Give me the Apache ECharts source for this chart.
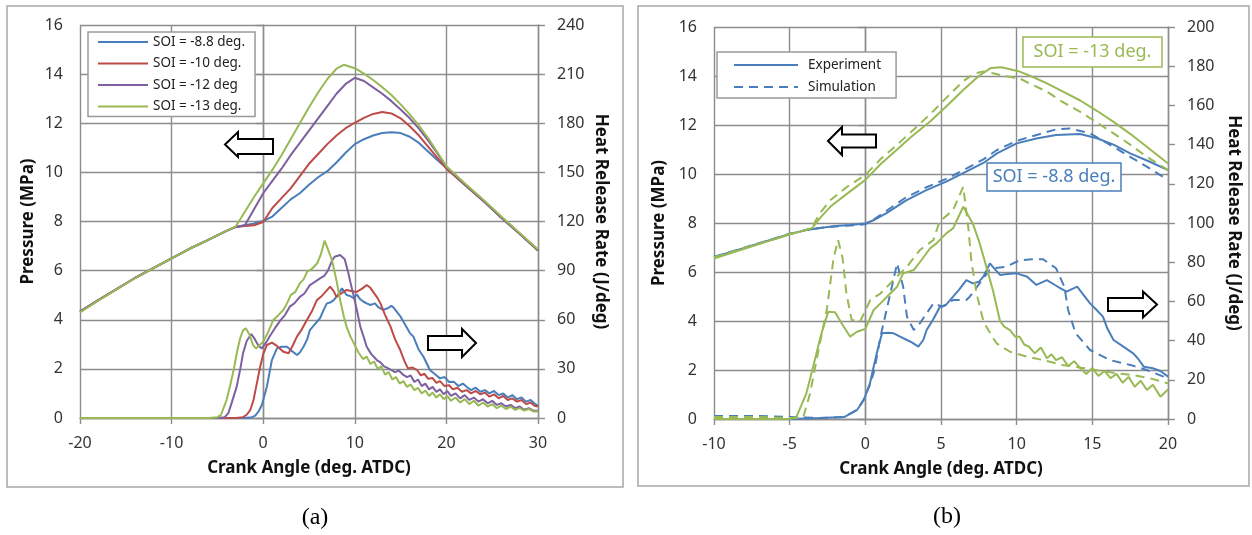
<!DOCTYPE html>
<html><head><meta charset="utf-8">
<script src="https://cdn.jsdelivr.net/npm/echarts@6/dist/echarts.min.js"></script>
<style>html,body{margin:0;padding:0;background:#fff}#c{width:1252px;height:535px}</style>
</head><body><div id="c"></div><script>
// ---------- Panel (a): pressure (MPa) vs crank angle ----------
const pressA_88 = [[-20,4.33],[-18,4.8],[-16,5.25],[-14,5.7],[-12,6.1],[-10,6.5],[-8,6.9],[-6,7.25],[-4,7.62],[-3,7.78],[-2,7.85],[-1,7.92],[0,8.02],[1,8.2],[2,8.55],[3,8.9],[4,9.15],[5,9.5],[6,9.8],[7,10.05],[8,10.4],[9,10.8],[10,11.15],[11,11.35],[12,11.5],[13,11.6],[14,11.63],[15,11.6],[16,11.45],[17,11.2],[18,10.85],[19,10.5],[20,10.18],[22,9.5],[24,8.85],[26,8.15],[28,7.5],[30,6.82]];
const pressA_10 = [[-20,4.33],[-18,4.8],[-16,5.25],[-14,5.7],[-12,6.1],[-10,6.5],[-8,6.9],[-6,7.25],[-4,7.62],[-3,7.78],[-2,7.82],[-1,7.85],[0,7.98],[1,8.55],[2,8.95],[3,9.35],[4,9.85],[5,10.35],[6,10.75],[7,11.15],[8,11.5],[9,11.8],[10,12.02],[11,12.22],[12,12.38],[13,12.46],[14,12.4],[15,12.2],[16,11.88],[17,11.5],[18,11.05],[19,10.6],[20,10.15],[22,9.5],[24,8.85],[26,8.15],[28,7.5],[30,6.82]];
const pressA_12 = [[-20,4.33],[-18,4.8],[-16,5.25],[-14,5.7],[-12,6.1],[-10,6.5],[-8,6.9],[-6,7.25],[-4,7.62],[-3,7.78],[-2,7.85],[-1,8.5],[0,9.15],[1,9.65],[2,10.15],[3,10.7],[4,11.2],[5,11.7],[6,12.2],[7,12.7],[8,13.2],[9,13.6],[10,13.85],[11,13.72],[12,13.46],[13,13.2],[14,12.9],[15,12.56],[16,12.2],[17,11.78],[18,11.3],[19,10.78],[20,10.22],[22,9.52],[24,8.86],[26,8.16],[28,7.5],[30,6.83]];
const pressA_13 = [[-20,4.3],[-18,4.78],[-16,5.24],[-14,5.69],[-12,6.1],[-10,6.5],[-8,6.9],[-6,7.25],[-4,7.62],[-3,7.8],[-2,8.4],[-1,9.0],[0,9.55],[1,10.1],[2,10.7],[3,11.35],[4,12.0],[5,12.65],[6,13.25],[7,13.8],[8,14.22],[8.8,14.38],[10,14.24],[11,14.02],[12,13.76],[13,13.47],[14,13.15],[15,12.77],[16,12.36],[17,11.9],[18,11.4],[19,10.83],[20,10.25],[22,9.56],[24,8.9],[26,8.2],[28,7.53],[30,6.86]];

// ---------- Panel (a): heat release rate (J/deg) ----------
const hrrA_88 = [[-20,0],[-2,0],[-1.2,0.5],[-0.87,1.5],[-0.5,4],[-0.15,7.9],[0.4,19.1],[0.95,35.4],[1.5,42.5],[2.0,43.5],[2.6,43.5],[3.1,41],[3.7,38.5],[4.0,40],[4.4,43.5],[4.8,48],[5.1,53.7],[5.6,57],[6.2,60.9],[6.6,66],[6.95,70],[7.3,70.5],[7.7,72],[8.2,75.5],[8.6,79.2],[9.1,75.1],[9.5,74.5],[9.86,73.1],[10.2,75.5],[10.6,72.5],[10.95,71],[11.3,70],[11.7,69],[12.2,70],[12.6,67.5],[13.1,66],[13.6,67],[14.0,68.5],[14.3,67],[14.7,64],[15.0,61.9],[15.5,57],[16.0,52],[16.4,49.7],[16.95,42],[17.5,37.4],[18.2,29.3],[18.7,27],[19.3,24.2],[19.8,25],[20.3,22],[20.8,22.2],[21.3,19.5],[21.8,21],[22.2,19.1],[22.7,17],[23.2,18.5],[23.7,16],[24.2,17],[24.7,15],[25.2,16.5],[25.7,14],[26.2,15],[26.7,12.5],[27.2,14],[27.7,11.5],[28.2,12.5],[28.7,10],[29.2,11],[29.6,9],[30,7.5]];
const hrrA_10 = [[-20,0],[-3,0],[-2.2,0.5],[-1.8,2],[-1.4,5],[-1.06,11],[-0.7,21],[-0.33,31.3],[0,39],[0.4,44.6],[0.95,46],[1.5,44],[2.2,40.5],[2.77,39.5],[3.2,44],[3.68,49.7],[4.2,54],[4.77,59.8],[5.3,65],[5.86,72],[6.3,74],[6.8,77],[7.3,80.2],[7.7,77.5],[8.0,74],[8.5,76],[9.1,78.2],[9.6,77.5],[10.2,77],[10.8,79],[11.3,81.2],[11.7,79.5],[12.0,77],[12.4,74],[12.8,70],[13.3,63],[13.9,55.8],[14.4,48],[14.96,41.5],[15.4,35],[15.8,30.3],[16.3,30.8],[16.8,29.3],[17.2,26],[17.6,27],[18.0,24],[18.5,24.4],[18.9,21.5],[19.3,22.5],[19.8,19.5],[20.3,20],[20.7,17.5],[21.2,18.5],[21.7,16],[22.2,17],[22.7,15],[23.2,16.5],[23.7,14.5],[24.2,15.5],[24.7,13],[25.2,14.5],[25.7,12],[26.2,13.5],[26.7,11],[27.2,12],[27.7,10],[28.2,11],[28.7,8.5],[29.2,9.5],[29.6,7.5],[30,7]];
const hrrA_12 = [[-20,0],[-5,0],[-4.2,0.5],[-3.8,3],[-3.4,10],[-2.9,19],[-2.5,30],[-2.2,39.5],[-1.8,47],[-1.3,51.3],[-0.9,48],[-0.5,44],[-0.15,42.5],[0.3,46],[0.8,50.7],[1.3,55],[1.9,59.8],[2.4,63],[2.9,68],[3.4,70],[4.0,74],[4.5,76],[5.1,81.2],[5.6,83],[6.2,85.3],[6.7,87],[7.1,90.4],[7.5,96],[7.8,98.5],[8.4,99.5],[8.9,97],[9.3,88.4],[9.6,81],[9.9,74],[10.3,64],[10.6,55.8],[11.0,49],[11.3,43.5],[11.8,39],[12.4,35.4],[12.8,34],[13.2,31.5],[13.6,30.5],[14,29.3],[14.4,28],[14.8,29],[15.3,26.3],[15.7,25],[16.1,26],[16.5,22],[16.9,23.5],[17.3,19.5],[17.7,21],[18.1,17.5],[18.5,19],[18.9,16],[19.3,17.5],[19.7,14.5],[20.1,16.5],[20.5,13.5],[21,15],[21.5,12],[22,14],[22.5,11],[23,12.5],[23.5,10],[24,11.5],[24.5,9],[25,10.5],[25.5,8],[26,9],[26.5,7],[27,8],[27.5,6],[28,7],[28.5,5],[29,6],[29.5,4.5],[30,4.5]];
const hrrA_13 = [[-20,0],[-6,0],[-5,0.5],[-4.6,2],[-4,11],[-3.6,20],[-3.2,30],[-2.8,42],[-2.5,49],[-2.2,53.5],[-1.9,54.8],[-1.5,51],[-1.1,44.5],[-0.8,42.5],[-0.4,44.5],[0,46.6],[0.5,52],[1.1,59.8],[1.6,62.5],[2.2,66],[2.6,70],[3.0,75],[3.5,77],[4.0,82.3],[4.4,84.5],[4.8,89.4],[5.3,91],[5.9,94.5],[6.3,100],[6.7,108.3],[7.0,104],[7.5,96.5],[8.0,84],[8.4,72],[8.8,62],[9.1,55.8],[9.5,50],[9.9,45.6],[10.4,40],[10.9,36],[11.3,37.5],[11.7,33],[12.1,34.5],[12.5,30],[12.9,31.5],[13.3,26.5],[13.7,28],[14.1,23.5],[14.5,25],[14.9,21],[15.3,22.5],[15.7,19],[16.1,20.5],[16.5,17],[16.9,18.5],[17.3,15],[17.7,16.8],[18.1,13.5],[18.5,15.5],[18.9,12.5],[19.3,14.5],[19.7,11.5],[20.1,13.5],[20.5,10.5],[21,12.5],[21.5,9.5],[22,11.5],[22.5,8.5],[23,10.5],[23.5,7.5],[24,9.5],[24.5,7],[25,8.5],[25.5,6],[26,7.5],[26.5,5.5],[27,7],[27.5,5],[28,6],[28.5,4.5],[29,5.5],[29.5,4],[30,4]];

// ---------- Panel (b): pressure (MPa) ----------
const pressB_88_exp = [[-10,6.6],[-8,6.98],[-6,7.36],[-5,7.55],[-4,7.7],[-3,7.8],[-2,7.88],[-1,7.92],[0,7.98],[0.5,8.1],[1.4,8.4],[2.7,8.92],[4.0,9.33],[5.35,9.69],[6.5,10.05],[7.8,10.45],[8.7,10.84],[10.0,11.25],[11.3,11.45],[12.6,11.59],[14.2,11.63],[15.3,11.46],[16.4,11.2],[17.5,10.84],[18.8,10.5],[20,10.16]];
const pressB_88_sim = [[-10,6.62],[-8,6.99],[-6,7.37],[-5,7.56],[-4,7.7],[-3,7.8],[-2,7.86],[-1,7.9],[0,7.95],[0.5,8.12],[1.4,8.5],[2.7,9.05],[4.0,9.45],[5.35,9.8],[6.5,10.16],[7.8,10.6],[8.7,10.98],[10,11.35],[10.9,11.52],[12.6,11.82],[13.5,11.86],[14.85,11.66],[16.4,11.11],[17.5,10.7],[18.6,10.3],[20,9.76]];
const pressB_13_exp = [[-10,6.55],[-8,6.95],[-6,7.34],[-5,7.53],[-4,7.7],[-3.5,7.8],[-3,8.2],[-2.3,8.67],[-1.2,9.2],[0,9.76],[1,10.4],[2.1,11.0],[3,11.5],[4.3,12.15],[5.5,12.85],[6.5,13.45],[7.5,14.0],[8.3,14.33],[9,14.36],[10.2,14.18],[11,13.98],[12,13.7],[13,13.38],[14.2,13.0],[15.3,12.58],[16.4,12.13],[17.5,11.64],[18.6,11.11],[20,10.43]];
const pressB_13_sim = [[-10,6.6],[-8,6.98],[-6,7.35],[-5,7.55],[-4,7.7],[-3.5,7.85],[-3,8.4],[-2.3,8.94],[-1.2,9.48],[0,9.96],[1,10.6],[2.1,11.2],[3,11.7],[4.3,12.45],[5.5,13.2],[6.5,13.8],[7.2,14.1],[7.8,14.18],[8.5,14.1],[9.2,14.0],[10.2,13.9],[11,13.65],[12,13.36],[13,12.95],[14.2,12.54],[15.3,12.1],[16.4,11.66],[17.5,11.2],[18.6,10.7],[20,10.16]];

// ---------- Panel (b): heat release rate (J/deg) ----------
const hrrB_88_exp = [[-10,0],[-5,0],[-3,0.5],[-1.4,1],[-0.55,4.6],[-0.1,9.7],[0.3,18],[0.55,26.7],[0.8,35],[1.1,43.7],[1.5,44],[1.87,43.7],[2.3,42],[2.75,40.3],[3.1,39],[3.5,36.9],[3.83,40.3],[4.05,45.4],[4.5,51],[4.93,57.3],[5.3,58],[5.8,62.4],[6.2,66],[6.67,70.9],[7.1,69.2],[7.5,70],[7.8,72.6],[8.23,79.4],[8.5,77],[8.9,73.5],[9.4,74],[10.0,74.3],[10.7,72.6],[11.3,68.4],[12.0,70.9],[12.5,68.5],[12.9,66.7],[13.3,65],[14.0,67.5],[14.4,63.5],[14.85,59],[15.3,55.5],[15.7,52.2],[16.0,46],[16.4,40.3],[17.05,36.9],[17.7,33.5],[18.0,31],[18.4,26.7],[19.0,25.9],[19.5,24.5],[20,21.6]];
const hrrB_88_sim = [[-10,1.5],[-7,1.5],[-5,1],[-3,0.5],[-1.4,1],[-0.55,4.6],[-0.1,10],[0.33,18],[0.6,25],[1.0,42],[1.65,64],[2.1,79.4],[2.5,67.5],[2.75,52.2],[3.2,45.4],[3.6,48.8],[4.5,59],[5.1,57.3],[5.8,60.7],[6.67,60.7],[6.9,62.4],[7.55,69.2],[8.2,76],[8.45,76.9],[9.3,77.7],[10.2,81],[11.0,81.5],[11.75,81.5],[12.6,76.9],[13.15,67.5],[13.4,55.6],[13.9,43.7],[14.85,35.2],[16.15,30.1],[17.5,27.6],[18.6,25],[19.7,21.6],[20,19.9]];
const hrrB_13_exp = [[-10,0],[-7,0],[-5,0],[-4.56,1],[-3.9,13],[-3.45,26.7],[-2.9,43.7],[-2.45,54.7],[-2.0,54.5],[-1.5,48],[-1.0,42],[-0.55,44.5],[0,46],[0.55,55.6],[1.0,59],[1.43,62.4],[2.1,67.5],[2.5,74.3],[3.2,76],[3.7,81],[4.27,87],[4.7,89.6],[5.35,94.7],[5.8,97.3],[6.47,108.3],[7.1,99.8],[7.5,91],[7.8,83],[8.2,72],[8.45,65],[8.9,50],[9.2,47],[9.56,45.4],[9.9,42],[10.2,42],[10.5,38],[10.8,37],[11.2,33.5],[11.6,36.5],[12.0,31],[12.3,33],[12.6,30],[13.0,31.5],[13.4,27],[13.8,29.5],[14.2,26],[14.6,23],[15.0,26],[15.4,22],[15.8,24.5],[16.2,20.8],[16.6,23],[17.0,18.5],[17.4,21.5],[17.8,16.5],[18.2,19.5],[18.6,14.8],[19.0,17.5],[19.5,11.4],[20,15]];
const hrrB_13_sim = [[-10,1],[-7,1],[-5,0.5],[-4.5,0.5],[-4.1,1],[-3.65,13],[-3.1,35],[-2.55,55.6],[-2.1,82],[-1.8,91.3],[-1.5,82],[-1.25,64],[-0.9,50.5],[-0.35,49.6],[0.33,60.7],[0.99,64],[1.87,70.9],[2.75,77.7],[3.6,86.2],[4.5,91.3],[4.9,100.7],[5.8,106.6],[6.47,118.5],[6.8,98],[7.0,81],[7.35,64],[7.8,50],[8.0,47],[8.67,38.6],[9.56,34.3],[10.66,31.8],[11.8,30],[13.0,27.6],[14.5,25.9],[16.6,23.3],[17.7,22.4],[18.8,20.8],[20,18.2]];

// ---------- Labels ----------
const legendA = ['SOI = -8.8 deg.', 'SOI = -10 deg.', 'SOI = -12 deg', 'SOI = -13 deg.'];
const legendB = ['Experiment', 'Simulation'];
const xName = 'Crank Angle (deg. ATDC)';
const yLeftName = 'Pressure (MPa)';
const yRightName = 'Heat Release Rate (J/deg)';

const C = {blue:'#4A7EBB', red:'#BE4B48', purple:'#7D60A0', green:'#98B954'};
const GC = '#8c8c8c';
const FONT = 'Noto Sans';

function xAx(gi, min, max, interval){
  return {type:'value', gridIndex:gi, min, max, interval, name:xName, nameLocation:'middle', nameGap:42,
    nameTextStyle:{fontFamily:FONT, fontWeight:'bold', fontSize:17, color:'#111'},
    axisLine:{show:true, onZero:false, lineStyle:{color:GC, width:1.4}},
    axisTick:{show:true, length:6, lineStyle:{color:GC, width:1.4}},
    axisLabel:{margin:17, fontFamily:FONT, fontSize:16, color:'#333'},
    splitLine:{show:true, lineStyle:{color:GC, width:1.4}}};
}
function yAx(gi, pos, min, max, interval, name, gap, split){
  return {type:'value', gridIndex:gi, position:pos, min, max, interval, name, nameLocation:'middle', nameGap:gap,
    nameRotate: pos==='left' ? 90 : -90,
    nameTextStyle:{fontFamily:FONT, fontWeight:'bold', fontSize:17, color:'#111'},
    axisLine:{show:true, lineStyle:{color:GC, width:1.4}},
    axisTick:{show:true, length:7, lineStyle:{color:GC, width:1.4}},
    axisLabel:{margin: pos==='left'?17:19, fontFamily:FONT, fontSize:16, color:'#333'},
    splitLine:{show:split, lineStyle:{color:GC, width:1.4}}};
}
function ln(name, data, xi, yi, color, dashed){
  return {type:'line', name, data, xAxisIndex:xi, yAxisIndex:yi, symbol:'none', showSymbol:false, smooth:false,
    lineStyle:{color, width:2, type: dashed ? [9,6] : 'solid'}, itemStyle:{color}, z:3};
}
function arrow(x0, x1, y0, y1, ys0, ys1, hx, dir){
  const ym = (y0+y1)/2;
  let pts;
  if (dir==='left') pts = [[x0,ym],[hx,y0],[hx,ys0],[x1,ys0],[x1,ys1],[hx,ys1],[hx,y1]];
  else pts = [[x1,ym],[hx,y0],[hx,ys0],[x0,ys0],[x0,ys1],[hx,ys1],[hx,y1]];
  return {type:'polygon', shape:{points:pts}, style:{fill:'#fff', stroke:'#000', lineWidth:2}, z:20};
}

const chart = echarts.init(document.getElementById('c'), null, {renderer:'canvas'});
chart.setOption({
  animation:false,
  backgroundColor:'#fff',
  grid:[
    {left:80, top:25, width:458, height:393},
    {left:714, top:27, width:454, height:392}
  ],
  xAxis:[xAx(0,-20,30,10), xAx(1,-10,20,5)],
  yAxis:[
    yAx(0,'left',0,16,2,yLeftName,43,true),
    yAx(0,'right',0,240,30,yRightName,54,false),
    yAx(1,'left',0,16,2,yLeftName,46,true),
    yAx(1,'right',0,200,20,yRightName,57,false)
  ],
  legend:[
    {data:legendA, left:88, top:32, orient:'vertical', itemWidth:50, itemHeight:14, itemGap:7.5,
     padding:[3,10,3,9], borderColor:'#9a9a9a', borderWidth:1.5, backgroundColor:'#fff',
     itemStyle:{opacity:0},
     textStyle:{fontFamily:FONT, fontSize:13.5, color:'#222'}},
    {data:legendB, left:717, top:52, orient:'vertical', itemWidth:64, itemHeight:14, itemGap:8,
     padding:[6,15,4,16], borderColor:'#9a9a9a', borderWidth:1.5, backgroundColor:'#fff',
     itemStyle:{opacity:0},
     textStyle:{fontFamily:FONT, fontSize:13.5, color:'#222', padding:[0,0,0,5]}}
  ],
  series:[
    ln(legendA[0], pressA_88, 0, 0, C.blue),
    ln(legendA[1], pressA_10, 0, 0, C.red),
    ln(legendA[2], pressA_12, 0, 0, C.purple),
    ln(legendA[3], pressA_13, 0, 0, C.green),
    ln(legendA[0], hrrA_88, 0, 1, C.blue),
    ln(legendA[1], hrrA_10, 0, 1, C.red),
    ln(legendA[2], hrrA_12, 0, 1, C.purple),
    ln(legendA[3], hrrA_13, 0, 1, C.green),
    ln('Experiment', pressB_88_exp, 1, 2, C.blue),
    ln('Simulation', pressB_88_sim, 1, 2, C.blue, true),
    ln('Experiment SOI -13', pressB_13_exp, 1, 2, C.green),
    ln('Simulation SOI -13', pressB_13_sim, 1, 2, C.green, true),
    ln('Experiment', hrrB_88_exp, 1, 3, C.blue),
    ln('Simulation', hrrB_88_sim, 1, 3, C.blue, true),
    ln('Experiment SOI -13', hrrB_13_exp, 1, 3, C.green),
    ln('Simulation SOI -13', hrrB_13_sim, 1, 3, C.green, true)
  ],
  graphic:[
    {type:'rect', shape:{x:7, y:6, width:616, height:481}, style:{fill:'none', stroke:'#a6a6a6', lineWidth:1.5}, z:-1},
    {type:'rect', shape:{x:638, y:6, width:611, height:480}, style:{fill:'none', stroke:'#a6a6a6', lineWidth:1.5}, z:-1},
    arrow(225, 273, 132, 157, 139, 154, 238, 'left'),
    arrow(428, 476, 329, 357, 336, 350, 462, 'right'),
    arrow(828, 876, 127, 155, 134.5, 147.5, 842, 'left'),
    arrow(1108, 1157, 291.5, 317.5, 298, 311, 1143, 'right'),
    {type:'rect', shape:{x:1023, y:37, width:139, height:30}, style:{fill:'#fff', stroke:C.green, lineWidth:1.5}, z:20},
    {type:'text', x:1092.5, y:52, style:{text:'SOI = -13 deg.', fill:C.green, font:'18px "Noto Sans"', align:'center', verticalAlign:'middle'}, z:21},
    {type:'rect', shape:{x:987, y:163, width:134, height:28}, style:{fill:'#fff', stroke:C.blue, lineWidth:1.5}, z:20},
    {type:'text', x:1054, y:177, style:{text:'SOI = -8.8 deg.', fill:C.blue, font:'18px "Noto Sans"', align:'center', verticalAlign:'middle'}, z:21},
    {type:'text', x:315, y:518, style:{text:'(a)', fill:'#000', font:'24px "Liberation Serif"', align:'center', verticalAlign:'middle'}, z:21},
    {type:'text', x:947, y:517, style:{text:'(b)', fill:'#000', font:'24px "Liberation Serif"', align:'center', verticalAlign:'middle'}, z:21}
  ]
});
</script></body></html>
